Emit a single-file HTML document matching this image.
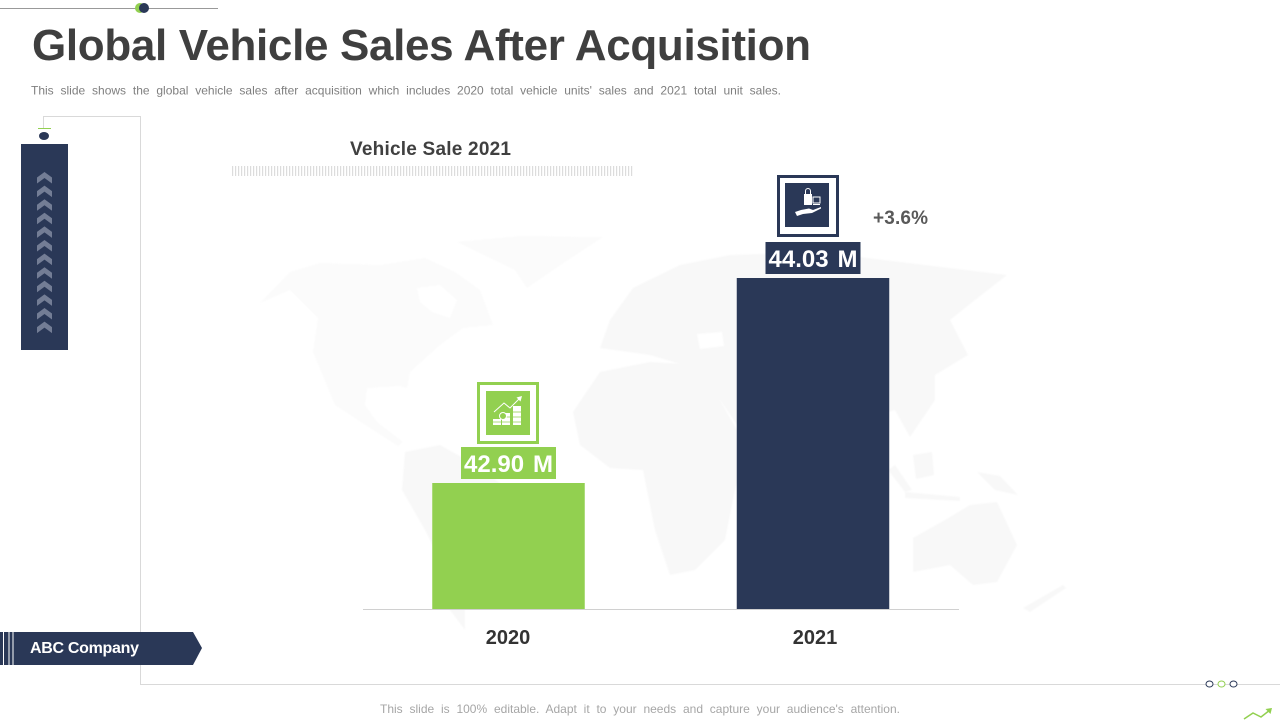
<!DOCTYPE html>
<html lang="en">
<head>
<meta charset="utf-8">
<title>Global Vehicle Sales After Acquisition</title>
<style>
html,body{margin:0;padding:0;background:#fff;width:1280px;height:720px;overflow:hidden}
svg{display:block;font-family:"Liberation Sans",sans-serif}
</style>
</head>
<body>
<svg id="slide" width="1280" height="720" viewBox="0 0 1280 720" xmlns="http://www.w3.org/2000/svg">
  <defs>
    <pattern id="tick-pattern" width="3" height="10" patternUnits="userSpaceOnUse" x="232" y="166">
      <rect x="0" y="0" width="1.2" height="10" fill="#dcdcdc"/>
    </pattern>
    <filter id="soft-edge" x="-5%" y="-5%" width="110%" height="110%">
      <feGaussianBlur stdDeviation="0.8"/>
    </filter>
  </defs>
  <rect width="1280" height="720" fill="#fff"/>

  <g fill="#f8f8f8" filter="url(#soft-edge)">
    <path fill="#fbfbfb" d="M260,303 L290,272 L320,263 L380,265 L425,258 L455,272 L480,290 L493,325 L463,328 L440,345 L410,372 L407,388 L400,386 L367,388 L365,405 L377,422 L403,442 L398,446 L370,428 L335,405 L313,352 L318,318 L290,290 Z"/>
    <path fill="#fff" d="M417,288 L440,285 L457,300 L450,318 L432,312 L420,302 Z"/>
    <path fill="#fbfbfb" d="M457,242 L520,236 L603,237 L565,262 L527,288 L515,270 L490,258 Z"/>
    <path d="M405,452 L440,445 L470,462 L510,490 L505,520 L480,560 L465,600 L465,630 L450,610 L445,570 L425,530 L402,490 Z"/>
    <path d="M573,412 L600,372 L650,362 L700,365 L737,430 L752,440 L735,490 L725,540 L695,570 L670,575 L655,530 L643,470 L610,468 L580,445 Z"/>
    <path d="M600,348 L610,320 L633,288 L680,265 L730,255 L820,252 L900,262 L1007,275 L975,300 L950,320 L968,355 L935,375 L935,400 L910,437 L895,410 L860,420 L815,450 L790,410 L760,405 L737,425 L700,370 L650,355 Z"/>
    <path fill="#fff" d="M697,334 L722,332 L724,346 L700,349 Z"/>
    <path d="M913,455 L932,452 L934,475 L916,479 Z"/>
    <path d="M977,472 L1000,476 L1018,495 L995,490 Z"/>
    <path d="M895,465 L912,490 L905,492 L888,470 Z"/>
    <path d="M905,492 L960,497 L960,501 L905,498 Z"/>
    <path d="M913,538 L945,520 L970,505 L997,502 L1017,545 L997,582 L973,585 L950,565 L913,572 Z"/>
    <path d="M1023,608 L1063,585 L1066,588 L1030,612 Z"/>
  </g>

  <g>
    <line x1="0" y1="8.5" x2="218" y2="8.5" stroke="#999" stroke-width="1"/>
    <circle cx="140" cy="8" r="5" fill="#92d050"/>
    <circle cx="144" cy="8" r="5" fill="#2a3857"/>
  </g>

  <text x="32" y="60" font-size="44" font-weight="700" fill="#3f3f3f" textLength="779" lengthAdjust="spacing">Global Vehicle Sales After Acquisition</text>
  <text id="subtitle" x="31" y="94.5" font-size="12" fill="#7f7f7f">This slide shows the global vehicle sales after acquisition which includes 2020 total vehicle units' sales and 2021 total unit sales.</text>

  <path d="M43.5,128 V116.5 H140.5 V684.5 H1280" fill="none" stroke="#d9d9d9" stroke-width="1"/>
  <line x1="38" y1="128.5" x2="51" y2="128.5" stroke="#92d050" stroke-width="1"/>
  <ellipse cx="44" cy="136" rx="5" ry="4" fill="#2a3857"/>
  <rect x="21" y="144" width="47" height="206" fill="#2a3857"/>
  <g id="chevrons" fill="#737d95"></g>

  <g>
    <path d="M0,632 H193 L202,648 L193,665 H0 Z" fill="#2a3857"/>
    <rect x="3" y="632" width="1" height="33" fill="#fff"/>
    <rect x="8.5" y="632" width="1" height="33" fill="#fff"/>
    <rect x="12.5" y="632" width="1" height="33" fill="#fff"/>
    <text x="30" y="653" font-size="16" font-weight="700" fill="#fff" textLength="109" lengthAdjust="spacing">ABC Company</text>
  </g>

  <text x="350" y="155" font-size="19" font-weight="700" fill="#404040" textLength="161" lengthAdjust="spacing">Vehicle Sale 2021</text>
  <rect x="232" y="166" width="402" height="10" fill="url(#tick-pattern)"/>

  <g id="plot"></g>

  <g id="icon-0">
    <rect x="1.5" y="1.5" width="59" height="59" fill="#fff" stroke="#92d050" stroke-width="3"/>
    <rect x="9" y="9" width="44" height="44" fill="#92d050"/>
    <polyline points="17,30 27,21 33,26 43,16" fill="none" stroke="#fff" stroke-width="1"/>
    <path d="M45,14 L39.5,15.5 L43.5,19.5 Z" fill="#fff"/>
    <rect x="16" y="37" width="8" height="6" fill="#fff"/>
    <rect x="25" y="31" width="8" height="12" fill="#fff"/>
    <rect x="36" y="24" width="8" height="19" fill="#fff"/>
    <g stroke="#92d050" stroke-width="0.8">
      <line x1="16" y1="40" x2="44" y2="40"/>
      <line x1="25" y1="35" x2="44" y2="35"/>
      <line x1="36" y1="30" x2="44" y2="30"/>
    </g>
    <circle cx="26" cy="34" r="3.5" fill="#92d050" stroke="#fff" stroke-width="1"/>
  </g>

  <g id="icon-1">
    <rect x="1.5" y="1.5" width="59" height="59" fill="#fff" stroke="#2a3857" stroke-width="3"/>
    <rect x="8" y="8" width="44" height="44" fill="#2a3857"/>
    <rect x="27" y="19" width="8" height="11" fill="#fff"/>
    <path d="M28.5,19 V16 a2.5,2.5 0 0 1 5,0 V19" fill="none" stroke="#fff" stroke-width="1"/>
    <rect x="36" y="22" width="7" height="6" fill="none" stroke="#fff" stroke-width="1"/>
    <rect x="36" y="29" width="7" height="1" fill="#fff"/>
    <path d="M18,37 L24,35 L32,33.5 L36,35 L44,32 L44,33.5 L35,38 L26,39 L20,41 Z" fill="#fff"/>
  </g>

  <text id="growth-label" x="873" y="224" font-size="19" font-weight="700" fill="#595959" textLength="55" lengthAdjust="spacing">+3.6%</text>

  <g fill="#fff" stroke-width="1">
    <ellipse cx="1209.5" cy="684" rx="3.5" ry="3" stroke="#2a3857"/>
    <ellipse cx="1221.5" cy="684" rx="3.5" ry="3" stroke="#92d050"/>
    <ellipse cx="1233.5" cy="684" rx="3.5" ry="3" stroke="#2a3857"/>
  </g>
  <g>
    <polyline points="1244,719 1253,713 1261,717 1270,710" fill="none" stroke="#92d050" stroke-width="1.5"/>
    <path d="M1272,708 L1265.5,709 L1270.5,714 Z" fill="#92d050"/>
  </g>

  <text id="footer-note" x="380" y="713" font-size="12" fill="#a6a6a6">This slide is 100% editable. Adapt it to your needs and capture your audience's attention.</text>
</svg>

<script>
const categories = ['2020', '2021'];
const salesMillions = [42.90, 44.03];
const barColors = ['#92d050', '#2a3857'];
const yDomain = [42.2055, 44.03];

const NS = 'http://www.w3.org/2000/svg';
const plot = document.getElementById('plot');

function yScale(v) {
  const y0 = 609, y1 = 278;
  return y0 - (v - yDomain[0]) / (yDomain[1] - yDomain[0]) * (y0 - y1);
}
function xCenter(i) {
  return 508.5 + i * 304.5;
}
const barWidth = 152.5;

// Stretch only the gaps between words so the glyphs keep their natural spacing.
function fitWords(el, targetWidth) {
  const gaps = el.textContent.split(' ').length - 1;
  const extra = (targetWidth - el.getComputedTextLength()) / gaps;
  el.style.wordSpacing = extra + 'px';
}

fitWords(document.getElementById('subtitle'), 750);
fitWords(document.getElementById('footer-note'), 520);

const chevrons = document.getElementById('chevrons');
for (let c = 0; c < 12; c++) {
  const cy = 172 + c * 13.6;
  const ch = document.createElementNS(NS, 'path');
  ch.setAttribute('d', 'M37,' + (cy + 5.5) + ' L44.5,' + cy + ' L52,' + (cy + 5.5) + ' V' + (cy + 11.5) + ' L44.5,' + (cy + 6) + ' L37,' + (cy + 11.5) + ' Z');
  
  
  chevrons.appendChild(ch);
}

categories.forEach(function (cat, i) {
  const v = salesMillions[i];
  const top = yScale(v);
  const cx = xCenter(i);

  const bar = document.createElementNS(NS, 'rect');
  bar.setAttribute('x', cx - barWidth / 2);
  bar.setAttribute('y', top);
  bar.setAttribute('width', barWidth);
  bar.setAttribute('height', yScale(yDomain[0]) - top);
  bar.setAttribute('fill', barColors[i]);
  
  
  plot.appendChild(bar);

  const labelBg = document.createElementNS(NS, 'rect');
  labelBg.setAttribute('x', cx - 47.5);
  labelBg.setAttribute('y', top - 36);
  labelBg.setAttribute('width', 95);
  labelBg.setAttribute('height', 32);
  labelBg.setAttribute('fill', barColors[i]);
  
  
  plot.appendChild(labelBg);

  const label = document.createElementNS(NS, 'text');
  label.setAttribute('x', cx - 44.5);
  label.setAttribute('y', top - 11);
  label.setAttribute('font-size', '24');
  label.setAttribute('font-weight', '700');
  label.setAttribute('fill', '#fff');
  
  
  label.textContent = v.toFixed(2) + ' M';
  plot.appendChild(label);
  fitWords(label, 89);

  const tick = document.createElementNS(NS, 'text');
  tick.setAttribute('x', cx + (i === 0 ? -0.5 : 2));
  tick.setAttribute('y', 644);
  tick.setAttribute('text-anchor', 'middle');
  tick.setAttribute('font-size', '20');
  tick.setAttribute('font-weight', '700');
  tick.setAttribute('fill', '#333');
  
  
  tick.textContent = cat;
  plot.appendChild(tick);

  document.getElementById('icon-' + i).setAttribute('transform',
    'translate(' + (cx - 31.5 + (i === 0 ? 0 : -4.5)) + ',' + (top - (i === 0 ? 101 : 103)) + ')');
});

const axisLine = document.createElementNS(NS, 'line');
axisLine.setAttribute('x1', 363);
axisLine.setAttribute('x2', 959);
axisLine.setAttribute('y1', 609.5);
axisLine.setAttribute('y2', 609.5);
axisLine.setAttribute('stroke', '#d0d0d0');
axisLine.setAttribute('stroke-width', '1');


plot.appendChild(axisLine);

document.getElementById('growth-label').setAttribute('y', yScale(salesMillions[1]) - 54);
</script>
</body>
</html>
